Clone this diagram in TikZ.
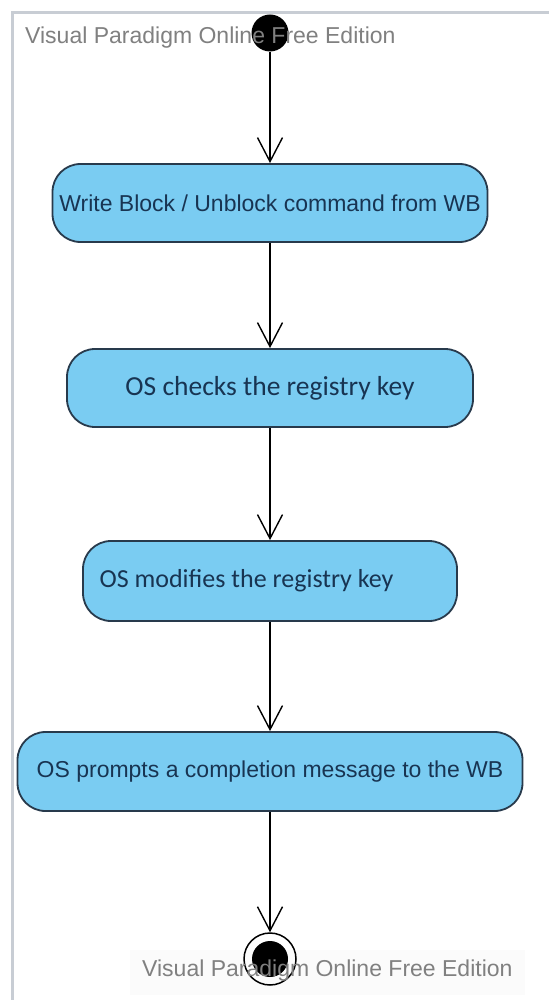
\documentclass[tikz,border=0pt]{standalone}
\usepackage{fontspec}
\setmainfont{Liberation Sans}
\newfontfamily\carlitofont{Carlito}
\usetikzlibrary{arrows.meta}
\definecolor{actfill}{RGB}{122,204,242}
\definecolor{actline}{RGB}{40,58,76}
\definecolor{acttext}{RGB}{24,52,82}
\definecolor{wmgray}{RGB}{128,128,128}
\definecolor{framegray}{RGB}{200,205,212}
\begin{document}
\begin{tikzpicture}[x=1pt,y=-1pt,
  activity/.style={draw=actline, line width=1.8pt, fill=actfill, rounded corners=28pt,
    text=acttext, font=\fontsize{23}{26}\selectfont, inner sep=0pt},
  calfont/.style={font=\carlitofont\fontsize{27.5}{30}\selectfont},
  calfontsmall/.style={font=\carlitofont\fontsize{26}{30}\selectfont},
  flow/.style={draw=black, line width=1.4pt, -{Straight Barb[length=24pt,width=25pt]}},
  watermark/.style={text=wmgray, font=\fontsize{23}{26}\selectfont, inner sep=0pt}]
\useasboundingbox (0,0) rectangle (549,1000);
\fill[white] (0,0) rectangle (549,1000);
\draw[framegray, line width=3pt] (12,1000) -- (12,13) -- (549,13);
\fill[gray!3] (130,950) rectangle (525,995);
\node[circle, fill=black, minimum size=37pt, inner sep=0pt] (start) at (270,33) {};
\node[activity, minimum width=435pt, minimum height=78pt] (a1) at (270,203) {Write Block / Unblock command from WB};
\node[activity, calfont, minimum width=406pt, minimum height=78pt] (a2) at (270,388) {OS checks the registry key};
\node[activity, calfontsmall, minimum width=374pt, minimum height=80pt] (a3) at (270,581) {OS modifies the registry key\hspace*{47pt}};
\node[activity, minimum width=505pt, minimum height=79pt] (a4) at (270,771.5) {OS prompts a completion message to the WB};
\node[circle, draw=black, line width=1.5pt, minimum size=52pt, inner sep=0pt] (end) at (270,959) {};
\fill[black] (end.center) circle (18pt);
\draw[flow] (start) -- (a1);
\draw[flow] (a1) -- (a2);
\draw[flow] (a2) -- (a3);
\draw[flow] (a3) -- (a4);
\draw[flow] (a4) -- (end);
\node[watermark, anchor=west] (wm1) at (25,38) {Visual Paradigm Online Free Edition};
\node[watermark, anchor=west] (wm2) at (142,971) {Visual Paradigm Online Free Edition};
\end{tikzpicture}
\end{document}
